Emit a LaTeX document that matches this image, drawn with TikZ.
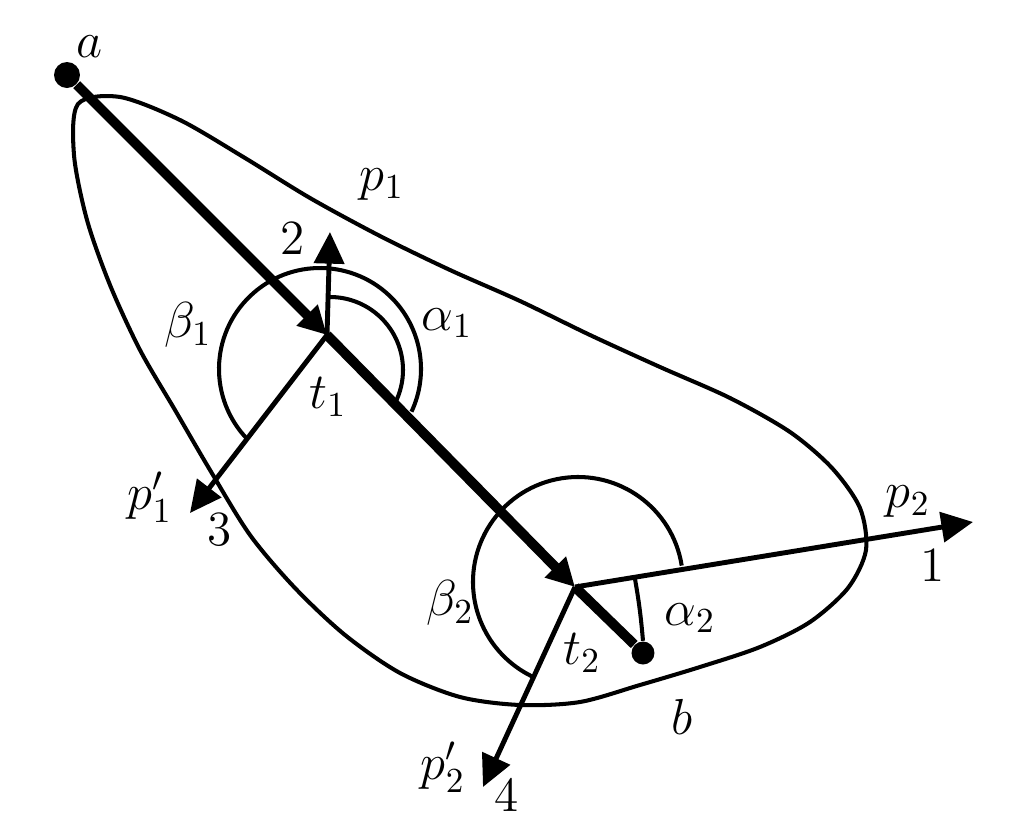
\documentclass[tikz,border=0pt]{standalone}
\usetikzlibrary{arrows.meta}
\usetikzlibrary{calc}
\tikzset{
      contour/.style={draw=black, line width=1.15pt, line join=round},
      track/.style={draw=black, line width=2.8pt},
      lead/.style={-{Triangle[length=8pt,width=8pt]}},
      ray/.style={draw=black, line width=1.4pt, -{Triangle[length=9pt,width=8.5pt]}},
      sweep/.style={draw=black, line width=1.15pt},
      tag/.style={font=\fontsize{14}{16}\selectfont, inner sep=0pt},
      spot/.style={circle, fill=black, inner sep=0pt},
}

\begin{document}
\begin{tikzpicture}
        \useasboundingbox (0,0) rectangle (10.15,8.30);

        % Points on the track
        \node[spot, minimum size=0.26cm] (a) at (0.67,7.55) {};
        \node[spot, minimum size=0.23cm] (b) at (6.43,1.77) {};
        \coordinate (t1) at (3.27,4.95);
        \coordinate (t2) at (5.75,2.43);
        \coordinate (e1) at (9.73,3.08);
        \coordinate (e2) at (3.30,5.98);
        \coordinate (e3) at (1.90,3.17);
        \coordinate (e4) at (4.83,0.43);

        % Draw the contour
        \draw[contour] plot[smooth cycle, tension=0.5] coordinates {
              (0.78,7.26) (1.20,7.33) (1.80,7.10) (2.45,6.72) (3.10,6.32)
              (3.80,5.94) (4.50,5.60) (5.20,5.29) (5.90,4.95) (6.60,4.63)
              (7.30,4.32) (7.90,3.98) (8.32,3.62) (8.60,3.22) (8.66,2.80)
              (8.48,2.42) (8.10,2.08) (7.60,1.83) (7.00,1.63) (6.40,1.45)
              (5.80,1.28) (5.20,1.25) (4.60,1.33) (4.00,1.57) (3.45,1.95)
              (2.95,2.42) (2.50,2.95) (2.10,3.60) (1.75,4.20) (1.40,4.80)
              (1.10,5.45) (0.87,6.10) (0.74,6.75)};

        % Draw the angles
        \coordinate (o1) at (3.20,4.61);
        \coordinate (o1i) at (3.30,4.60);
        \coordinate (o2) at (5.78,2.48);
        \coordinate (s2) at ($(t2)!0.15!(e1)$);
        \draw[sweep] (o1) ++(224:1.01) arc[start angle=224, end angle=-25, radius=1.01];
        \draw[sweep] (o1i) ++(90:0.73) arc[start angle=90, end angle=-27, radius=0.73];
        \draw[sweep] (o2) ++(9:1.05) arc[start angle=9, end angle=245, radius=1.05];
        \draw[sweep] (s2) to[out=-80, in=95] (b.north);

        % Draw the directions
        \draw[ray] (t1) -- (e2);
        \draw[ray] (t1) -- (e3);
        \draw[ray] (t2) -- (e1);
        \draw[ray] (t2) -- (e4);

        % Draw the track
        \draw[track, lead] (a) -- (t1);
        \draw[track, lead] (t1) -- (t2);
        \draw[track] (t2) -- (b);

        % Labels
        \node[tag] (la) at (0.90,7.83) {$a$};
        \node[tag] (lb) at (6.82,1.13) {$b$};
        \node[tag] (lt1) at (3.28,4.33) {$t_1$};
        \node[tag] (lt2) at (5.82,1.77) {$t_2$};
        \node[tag] (lp1) at (3.82,6.45) {$p_1$};
        \node[tag] (lp2) at (9.08,3.28) {$p_2$};
        \node[tag] (lq1) at (1.50,3.33) {$p_1'$};
        \node[tag] (lq2) at (4.43,0.63) {$p_2'$};
        \node[tag] (la1) at (4.47,5.07) {$\alpha_1$};
        \node[tag] (la2) at (6.90,2.12) {$\alpha_2$};
        \node[tag] (lb1) at (1.88,5.05) {$\beta_1$};
        \node[tag] (lb2) at (4.50,2.27) {$\beta_2$};
        \node[tag] (n1) at (9.33,2.65) {1};
        \node[tag] (n2) at (2.93,5.92) {2};
        \node[tag] (n3) at (2.20,3.00) {3};
        \node[tag] (n4) at (5.07,0.35) {4};

\end{tikzpicture}
\end{document}
